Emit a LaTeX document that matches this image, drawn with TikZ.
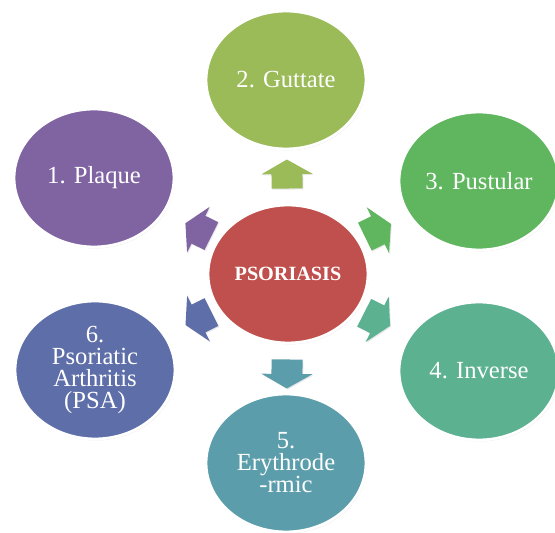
\documentclass[tikz,border=0pt]{standalone}
\usepackage{fontspec}
\setmainfont{Liberation Serif}
\usetikzlibrary{shapes.geometric,calc,shadows}
\definecolor{Core}{HTML}{C0504D}
\definecolor{Plaque}{HTML}{8064A2}
\definecolor{Guttate}{HTML}{9BBB59}
\definecolor{Pustular}{HTML}{5FB65F}
\definecolor{Inverse}{HTML}{5BB190}
\definecolor{Erythro}{HTML}{5B9DAB}
\definecolor{Arthritis}{HTML}{5E6EA8}

\begin{document}
\begin{tikzpicture}[
    x=0.02cm,y=-0.02cm,
    blob/.style={ellipse,draw=white,line width=1.6pt,minimum width=3.2cm,minimum height=2.76cm,inner sep=0pt,align=center,text=white,font=\fontsize{14}{12.5}\selectfont,drop shadow={opacity=0.2,shadow xshift=0.6pt,shadow yshift=-0.8pt}},
    fatarrow/.pic={\path[drop shadow={opacity=0.2,shadow xshift=0.5pt,shadow yshift=-0.6pt},pic actions] (-0.29cm,-0.31cm) -- (0,-0.31cm) -- (0,-0.51cm) -- (0.29cm,0) -- (0,0.51cm) -- (0,0.31cm) -- (-0.29cm,0.31cm) -- cycle;}
  ]
    \useasboundingbox (0,0) rectangle (555,533);
    \node[blob,fill=Core,font=\bfseries\fontsize{11.5}{13}\selectfont] (core) at (288,274) {PSORIASIS};
    \node[blob,fill=Plaque] (plaque) at (94,178) {1. Plaque};
    \node[blob,fill=Guttate] (guttate) at (286,80) {2. Guttate};
    \node[blob,fill=Pustular] (pustular) at (479,181) {3. Pustular};
    \node[blob,fill=Inverse] (inverse) at (479,371) {4. Inverse};
    \node[blob,fill=Erythro] (erythro) at (286,463) {5.\\Erythrode\\-rmic};
    \node[blob,fill=Arthritis] (psa) at (95,370) {6.\\Psoriatic\\Arthritis\\(PSA)};
    % block arrows from the centre outwards
    \foreach \t/\c in {plaque/Plaque,guttate/Guttate,pustular/Pustular,inverse/Inverse,erythro/Erythro,psa/Arthritis}
      \path let \p1=($(\t.center)-(core.center)$),\n1={atan2(\y1,\x1)} in
        pic[fill=\c,rotate=\n1] (arr-\t) at ($(core.center)!2cm!(\t.center)$) {fatarrow};
  \end{tikzpicture}
\end{document}
